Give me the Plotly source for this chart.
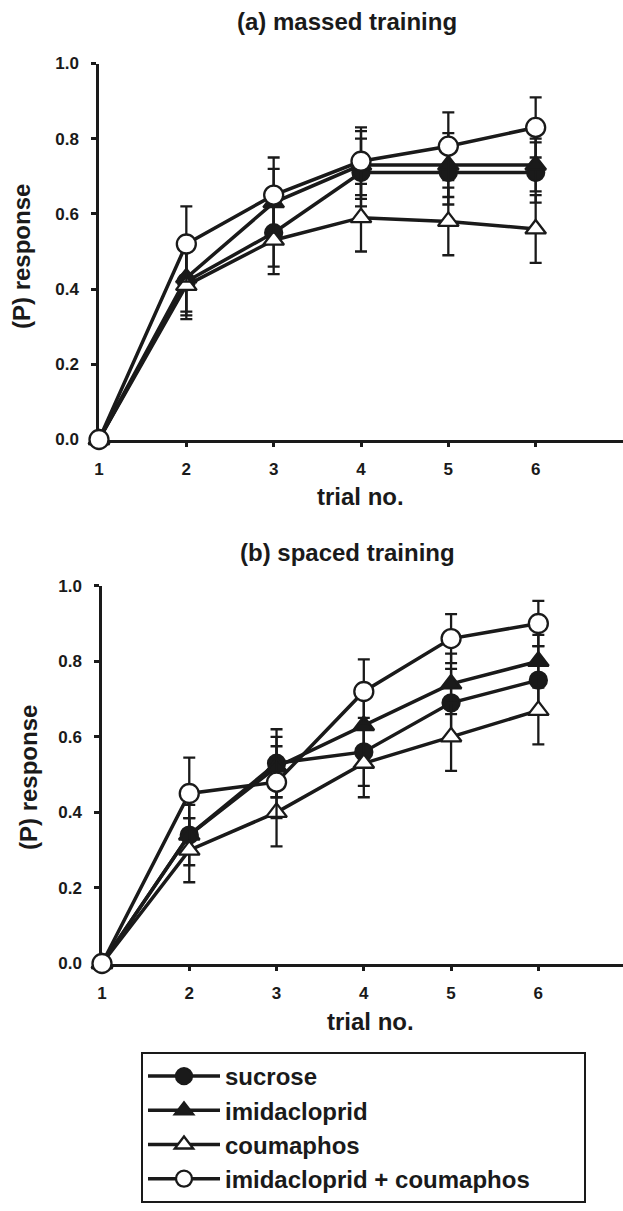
import plotly.graph_objects as go

W, H = 623, 1211

trials = [1, 2, 3, 4, 5, 6]
series_names = ["sucrose", "imidacloprid", "coumaphos", "imidacloprid + coumaphos"]

# (a) massed training
a_sucrose = [0, 0.42, 0.55, 0.71, 0.71, 0.71]
a_sucrose_err = [0, 0.09, 0.09, 0.09, 0.085, 0.08]
a_imid = [0, 0.43, 0.63, 0.73, 0.73, 0.73]
a_imid_err = [0, 0.09, 0.09, 0.09, 0.085, 0.07]
a_coum = [0, 0.41, 0.53, 0.59, 0.58, 0.56]
a_coum_err = [0, 0.09, 0.09, 0.09, 0.09, 0.09]
a_both = [0, 0.52, 0.65, 0.74, 0.78, 0.83]
a_both_err = [0, 0.10, 0.10, 0.09, 0.09, 0.08]

# (b) spaced training
b_sucrose = [0, 0.34, 0.53, 0.56, 0.69, 0.75]
b_sucrose_err = [0, 0.08, 0.09, 0.09, 0.09, 0.09]
b_imid = [0, 0.34, 0.52, 0.63, 0.74, 0.80]
b_imid_err = [0, 0.045, 0.08, 0.09, 0.08, 0.07]
b_coum = [0, 0.30, 0.40, 0.53, 0.60, 0.67]
b_coum_err = [0, 0.085, 0.09, 0.09, 0.09, 0.09]
b_both = [0, 0.45, 0.48, 0.72, 0.86, 0.90]
b_both_err = [0, 0.095, 0.095, 0.085, 0.065, 0.06]

y_ticks = [0.0, 0.2, 0.4, 0.6, 0.8, 1.0]
y_ticklabels = ["0.0", "0.2", "0.4", "0.6", "0.8", "1.0"]
x_ticklabels = ["1", "2", "3", "4", "5", "6"]

FONT = "Liberation Sans, Arial, Helvetica, sans-serif"
INK = "#1a1a1a"

styles = [
    dict(symbol="circle", color=INK, size=17),
    dict(symbol="triangle-up", color=INK, size=18),
    dict(symbol="triangle-up", color="white", size=18),
    dict(symbol="circle", color="white", size=19),
]

fig = go.Figure()

panels = [
    ("x", "y", [a_sucrose, a_imid, a_coum, a_both], [a_sucrose_err, a_imid_err, a_coum_err, a_both_err], True),
    ("x2", "y2", [b_sucrose, b_imid, b_coum, b_both], [b_sucrose_err, b_imid_err, b_coum_err, b_both_err], False),
]

for xa, ya, vals, errs, show in panels:
    for name, v, e, st in zip(series_names, vals, errs, styles):
        fig.add_trace(go.Scatter(
            x=trials, y=v, name=name, xaxis=xa, yaxis=ya,
            mode="lines+markers", cliponaxis=False, showlegend=show,
            line=dict(color=INK, width=3.5),
            marker=dict(symbol=st["symbol"], color=st["color"], size=st["size"],
                        line=dict(color=INK, width=2.3)),
            error_y=dict(type="data", array=e, visible=True, color=INK,
                         thickness=2.3, width=6),
        ))

axis_common = dict(
    showline=True, linecolor=INK, linewidth=2.5, mirror=False,
    ticks="outside", ticklen=5, tickwidth=2.5, tickcolor=INK,
    showgrid=False, zeroline=False, automargin=False, layer="below traces",
    tickfont=dict(family=FONT, size=17, color=INK, weight="bold"),
)

fig.update_layout(
    template="none",
    width=W, height=H,
    margin=dict(l=0, r=0, t=0, b=0, autoexpand=False),
    paper_bgcolor="white", plot_bgcolor="white",
    font=dict(family=FONT, color=INK),
    xaxis=dict(domain=[99 / W, 1], range=[1, 7.0], anchor="y",
               tickvals=trials, ticktext=x_ticklabels, ticklabelstandoff=7, **axis_common),
    yaxis=dict(domain=[1 - 439.5 / H, 1 - 63.5 / H], range=[0, 1], anchor="x",
               tickvals=y_ticks, ticktext=y_ticklabels, ticklabelstandoff=9, **axis_common),
    xaxis2=dict(domain=[102 / W, 1], range=[1, 6.97], anchor="y2",
                tickvals=trials, ticktext=x_ticklabels, ticklabelstandoff=7, **axis_common),
    yaxis2=dict(domain=[1 - 963.5 / H, 1 - 585.7 / H], range=[0, 1], anchor="x2",
                tickvals=y_ticks, ticktext=y_ticklabels, ticklabelstandoff=9, **axis_common),
    showlegend=True,
    legend=dict(
        orientation="h",
        x=141 / W, y=1 - 1052 / H, xanchor="left", yanchor="top",
        bordercolor=INK, borderwidth=2, bgcolor="white",
        font=dict(family=FONT, size=24, color=INK, weight="bold"),
        itemwidth=72, tracegroupgap=0,
        entrywidth=354, entrywidthmode="pixels",
    ),
)

title_font = dict(family=FONT, size=24, color=INK, weight="bold")
annots = [
    dict(text="(a) massed training", x=347 / W, y=1 - 22 / H),
    dict(text="trial no.", x=360 / W, y=1 - 497 / H),
    dict(text="(b) spaced training", x=347 / W, y=1 - 553 / H),
    dict(text="trial no.", x=370 / W, y=1 - 1021 / H),
]
for a in annots:
    fig.add_annotation(xref="paper", yref="paper", showarrow=False,
                       xanchor="center", yanchor="middle", font=title_font, **a)
for yc, xc in [(257, 21), (778, 28)]:
    fig.add_annotation(xref="paper", yref="paper", showarrow=False, text="(P) response",
                       x=xc / W, y=1 - yc / H, textangle=-90,
                       xanchor="center", yanchor="middle", font=title_font)

fig.write_html("out.html", config={"displayModeBar": False},
               post_script="document.body.style.margin='0px';document.body.style.overflow='hidden';")
